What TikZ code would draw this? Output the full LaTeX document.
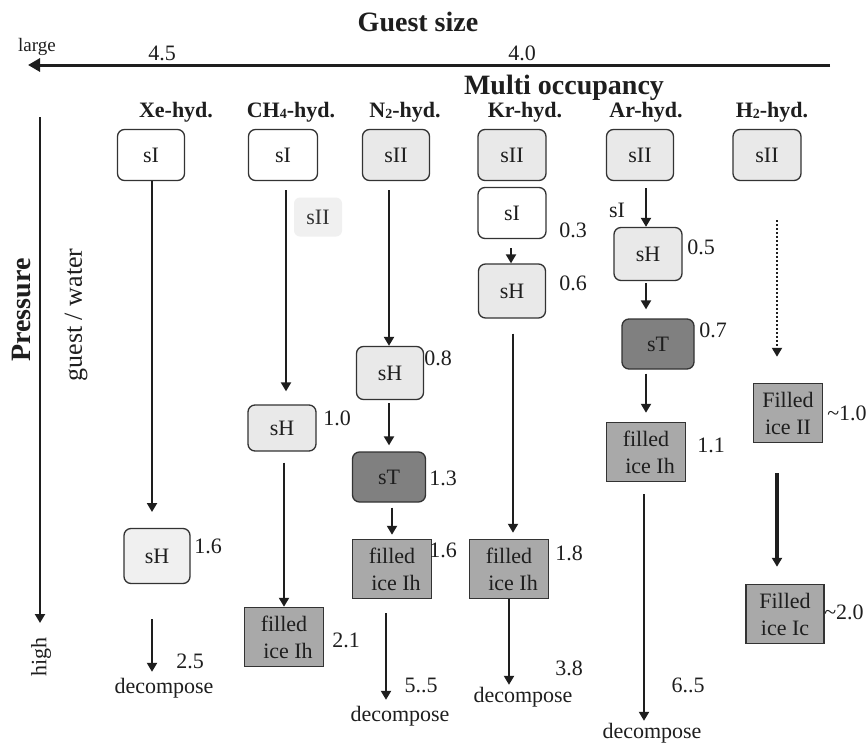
\documentclass[tikz,border=0pt]{standalone}
\usepackage{fontspec}
\setmainfont{Liberation Serif}
\usetikzlibrary{arrows.meta}
\definecolor{ink}{HTML}{1E1E1E}
\definecolor{boxline}{HTML}{333333}
\definecolor{lightfill}{HTML}{E9E9E9}
\definecolor{palefill}{HTML}{F0F0F0}
\definecolor{darkfill}{HTML}{808080}
\definecolor{icefill}{HTML}{A9A9A9}
\newcommand{\fsz}[1]{\fontsize{#1}{#1}\selectfont}
\newcommand{\sbs}[1]{\raisebox{-0.12ex}{\fontsize{14}{14}\selectfont #1}}
\tikzset{
  every node/.style={text=ink, inner sep=0pt},
  rbox/.style={draw=boxline, line width=1.3pt, rounded corners=7pt, font=\fsz{22}, minimum width=67pt, minimum height=51pt},
  whitebox/.style={rbox, fill=white},
  graybox/.style={rbox, fill=lightfill},
  darkbox/.style={rbox, fill=darkfill},
  icebox/.style={draw=boxline, line width=1.5pt, fill=icefill, font=\fontsize{22}{27}\selectfont, align=center, minimum width=79pt, minimum height=59pt},
  lbl/.style={font=\fsz{22}},
  head/.style={font=\bfseries\fsz{22}},
  arr/.style={draw=ink, line width=2pt, -{Triangle[length=9pt,width=10pt]}},
  bigarr/.style={draw=ink, line width=3pt, -{Triangle[length=12pt,width=13pt]}},
}
\begin{document}
\begin{tikzpicture}[x=1pt,y=-1pt]
\useasboundingbox (0,0) rectangle (867,744);
\fill[white] (0,0) rectangle (867,744);

% axes
\node[font=\bfseries\fsz{28}] (gs) at (418,22) {Guest size};
\node[font=\fsz{19}] (large) at (37,47) {large};
\node[font=\fsz{22}] (v45) at (162,53) {4.5};
\node[font=\fsz{22}] (v40) at (522,53) {4.0};
\coordinate (gsR) at (830,65);
\coordinate (gsL) at (28,65);
\draw[bigarr] (gsR) -- (gsL);
\node[font=\bfseries\fsz{28}] (mo) at (564,88) {Multi occupancy};

\coordinate (pT) at (40,117);
\coordinate (pB) at (40,623);
\draw[arr] (pT) -- (pB);
\node[font=\bfseries\fsz{28}, rotate=90] (pr) at (22,310) {Pressure};
\node[font=\fsz{26}, rotate=90] (gw) at (76,315) {guest / water};
\node[font=\fsz{22}, rotate=90] (high) at (41,657) {high};

% headings
\node[head] (hXe) at (176,112) {Xe-hyd.};
\node[head] (hCH) at (291,112) {CH\sbs{4}-hyd.};
\node[head] (hN) at (405,112) {N\sbs{2}-hyd.};
\node[head] (hKr) at (525,112) {Kr-hyd.};
\node[head] (hAr) at (646,112) {Ar-hyd.};
\node[head] (hH) at (772,112) {H\sbs{2}-hyd.};

% Xe
\node[whitebox] (xeI) at (151,155) {sI};
\node[graybox, fill=palefill, minimum width=66pt, minimum height=55pt] (xeH) at (157,556) {sH};
\node[lbl] (xe16) at (208,546) {1.6};
\node[lbl] (xe25) at (190,661) {2.5};
\node[lbl] (xeD) at (164,688) {decompose};
\draw[arr, shorten >=16pt] (xeI.south -| 152,0) -- (152,528);
\draw[arr, shorten <=36pt, shorten >=6pt] (152,583) -- (xeD.north -| 152,0);

% CH4
\node[whitebox, minimum width=69pt] (chI) at (283,155) {sI};
\node[rbox, draw=none, fill=palefill, minimum width=48pt, minimum height=39pt, rounded corners=6pt, text=boxline] (chII) at (318,217) {sII};
\node[graybox, minimum width=68pt, minimum height=46pt] (chH) at (282,428) {sH};
\node[icebox] (chF) at (284,637) {filled\\\hspace*{8pt}ice Ih};
\node[lbl] (ch10) at (337,418) {1.0};
\node[lbl] (ch21) at (346,640) {2.1};
\draw[arr, shorten <=9pt, shorten >=13pt] (chI.south -| 286,0) -- (chH.north -| 286,0);
\draw[arr, shorten <=11pt] (chH.south -| 284,0) -- (chF.north -| 284,0);

% N2
\node[graybox] (nII) at (396,155) {sII};
\node[graybox, minimum height=53pt] (nH) at (390,373) {sH};
\node[darkbox, minimum width=73pt, minimum height=50pt] (nT) at (389,477) {sT};
\node[icebox] (nF) at (392,569) {filled\\\hspace*{8pt}ice Ih};
\node[lbl] (n08) at (438,358) {0.8};
\node[lbl] (n13) at (443,478) {1.3};
\node[lbl] (n16) at (443,550) {1.6};
\node[lbl] (n55) at (421,685) {5..5};
\node[lbl] (nD) at (400,716) {decompose};
\draw[arr, shorten <=9pt] (nII.south -| 389,0) -- (nH.north -| 389,0);
\draw[arr, shorten <=3pt, shorten >=6pt] (nH.south -| 389,0) -- (nT.north -| 389,0);
\draw[arr, shorten <=5pt, shorten >=4pt] (nT.south -| 392,0) -- (nF.north -| 392,0);
\draw[arr, shorten <=14pt, shorten >=6pt] (nF.south -| 386,0) -- (nD.north -| 386,0);

% Kr
\node[graybox, minimum width=68pt] (kII) at (512,155) {sII};
\node[whitebox, minimum width=68pt] (kI) at (512,213) {sI};
\node[graybox, minimum height=54pt] (kH) at (512,291) {sH};
\node[icebox] (kF) at (509,569) {filled\\\hspace*{8pt}ice Ih};
\node[lbl] (k03) at (573,230) {0.3};
\node[lbl] (k06) at (573,283) {0.6};
\node[lbl] (k18) at (569,553) {1.8};
\node[lbl] (k38) at (569,668) {3.8};
\node[lbl] (kD) at (523,697) {decompose};
\draw[arr, shorten <=9pt] (kI.south -| 511,0) -- (kH.north -| 511,0);
\draw[arr, shorten <=15pt, shorten >=6pt] (kH.south -| 513,0) -- (kF.north -| 513,0);
\draw[arr, shorten >=2pt] (kF.south -| 509,0) -- (kD.north -| 509,0);

% Ar
\node[graybox] (aII) at (640,155) {sII};
\node[lbl] (aI) at (617,210) {sI};
\node[graybox, minimum width=68pt, minimum height=53pt] (aH) at (648,254) {sH};
\node[darkbox, minimum width=72pt, minimum height=50pt] (aT) at (658,344) {sT};
\node[icebox] (aF) at (646,452) {filled\\\hspace*{8pt}ice Ih};
\node[lbl] (a05) at (701,247) {0.5};
\node[lbl] (a07) at (713,330) {0.7};
\node[lbl] (a11) at (711,445) {1.1};
\node[lbl] (a65) at (688,685) {6..5};
\node[lbl] (aD) at (652,733) {decompose};
\draw[arr, shorten <=7pt] (aII.south -| 646,0) -- (aH.north -| 646,0);
\draw[arr, shorten <=2pt, shorten >=9pt] (aH.south -| 646,0) -- (aT.north -| 646,0);
\draw[arr, shorten <=4pt, shorten >=9pt] (aT.south -| 646,0) -- (aF.north -| 646,0);
\draw[arr, shorten <=12pt, shorten >=2pt] (aF.south -| 644,0) -- (aD.north -| 644,0);

% H2
\node[graybox, minimum width=68pt] (hII) at (767,155) {sII};
\node[icebox, minimum width=69pt] (hF2) at (788,413) {Filled\\ice II};
\node[icebox, minimum width=78pt] (hFc) at (785,614) {Filled\\ice Ic};
\node[lbl] (h10) at (847,413) {\textasciitilde1.0};
\node[lbl] (h20) at (844,612) {\textasciitilde2.0};
\draw[arr, dotted, shorten <=39pt, shorten >=26pt] (hII.south -| 777,0) -- (hF2.north -| 777,0);
\draw[arr, line width=3.2pt, shorten <=30pt, shorten >=17pt] (hF2.south -| 777,0) -- (hFc.north -| 777,0);
\end{tikzpicture}
\end{document}
